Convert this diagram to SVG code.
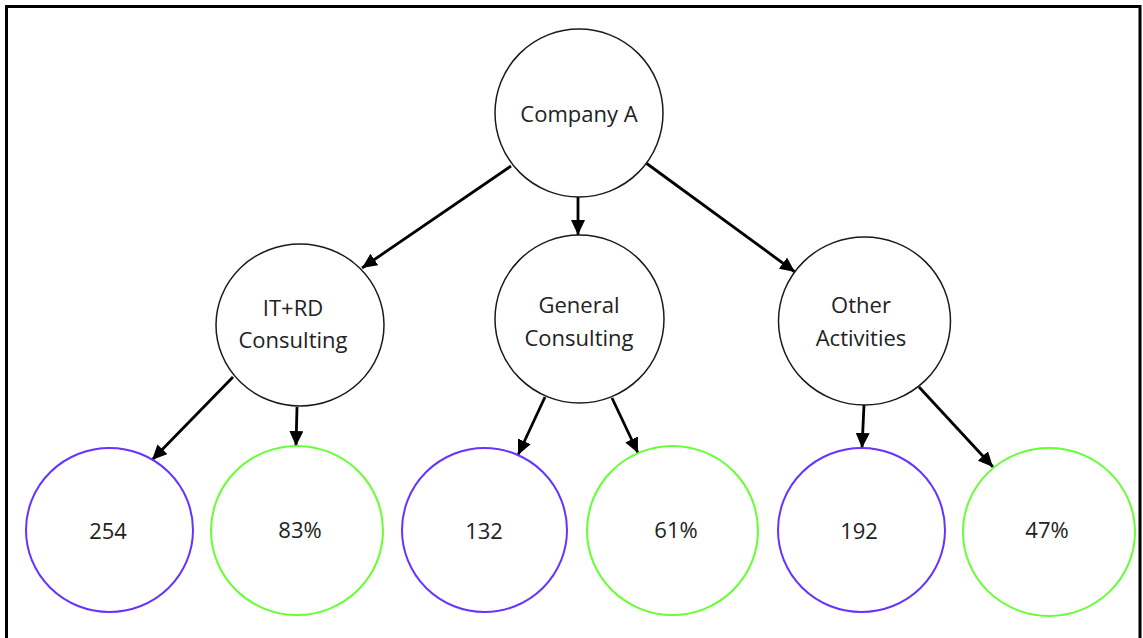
<svg xmlns="http://www.w3.org/2000/svg" width="1143" height="638" viewBox="0 0 1143 638">
  <style>
    .node { fill: #ffffff; stroke: #1a1a1a; stroke-width: 1.5; }
    .blue { fill: #ffffff; stroke: #6633ff; stroke-width: 2; }
    .green { fill: #ffffff; stroke: #66ff33; stroke-width: 2; }
    .lbl { font-family: "Open Sans", "Liberation Sans", sans-serif; font-size: 22px; fill: #222222; text-anchor: middle; }
    .conn { stroke: #000000; stroke-width: 2.8; fill: none; marker-end: url(#arr); }
  </style>
  <defs>
    <marker id="arr" markerUnits="userSpaceOnUse" markerWidth="16" markerHeight="14" refX="15" refY="7" orient="auto">
      <path d="M0,0 L15,7 L0,14 Z" fill="#000000"/>
    </marker>
  </defs>
  <rect x="0" y="0" width="1143" height="638" fill="#ffffff"/>
  <path d="M6.5,640 V6.5 H1140 V640" fill="none" stroke="#000000" stroke-width="3"/>

  <g id="connectors">
    <line class="conn" x1="511" y1="166" x2="362" y2="268"/>
    <line class="conn" x1="578" y1="197" x2="578" y2="235"/>
    <line class="conn" x1="646" y1="163" x2="795" y2="272"/>
    <line class="conn" x1="233" y1="377" x2="152" y2="460"/>
    <line class="conn" x1="297" y1="407" x2="296" y2="446"/>
    <line class="conn" x1="545" y1="397" x2="518" y2="455"/>
    <line class="conn" x1="612" y1="398" x2="638" y2="453"/>
    <line class="conn" x1="864" y1="405" x2="862" y2="448"/>
    <line class="conn" x1="919" y1="387" x2="993" y2="467"/>
  </g>

  <g id="company-a">
    <ellipse class="node" cx="579" cy="113" rx="84" ry="84"/>
    <text class="lbl" x="579" y="122">Company A</text>
  </g>
  <g id="it-rd-consulting">
    <ellipse class="node" cx="300" cy="325" rx="84" ry="81"/>
    <text class="lbl" x="293" y="316">IT+RD</text>
    <text class="lbl" x="293" y="348">Consulting</text>
  </g>
  <g id="general-consulting">
    <ellipse class="node" cx="579.5" cy="319" rx="84.5" ry="84"/>
    <text class="lbl" x="579" y="313">General</text>
    <text class="lbl" x="579" y="346">Consulting</text>
  </g>
  <g id="other-activities">
    <ellipse class="node" cx="864.5" cy="321" rx="86" ry="84"/>
    <text class="lbl" x="861" y="313">Other</text>
    <text class="lbl" x="861" y="346">Activities</text>
  </g>

  <g id="n254">
    <ellipse class="blue" cx="109.5" cy="530" rx="83.5" ry="82"/>
    <text class="lbl" x="108" y="539">254</text>
  </g>
  <g id="n83">
    <ellipse class="green" cx="297" cy="530.5" rx="86" ry="84.5"/>
    <text class="lbl" x="300" y="538">83%</text>
  </g>
  <g id="n132">
    <ellipse class="blue" cx="484.5" cy="530" rx="82.5" ry="82"/>
    <text class="lbl" x="484" y="539">132</text>
  </g>
  <g id="n61">
    <ellipse class="green" cx="672.5" cy="530.5" rx="85.5" ry="84.5"/>
    <text class="lbl" x="676" y="538">61%</text>
  </g>
  <g id="n192">
    <ellipse class="blue" cx="861.5" cy="530" rx="83.5" ry="82"/>
    <text class="lbl" x="859" y="539">192</text>
  </g>
  <g id="n47">
    <ellipse class="green" cx="1049" cy="532" rx="86" ry="84"/>
    <text class="lbl" x="1047" y="538">47%</text>
  </g>
</svg>
